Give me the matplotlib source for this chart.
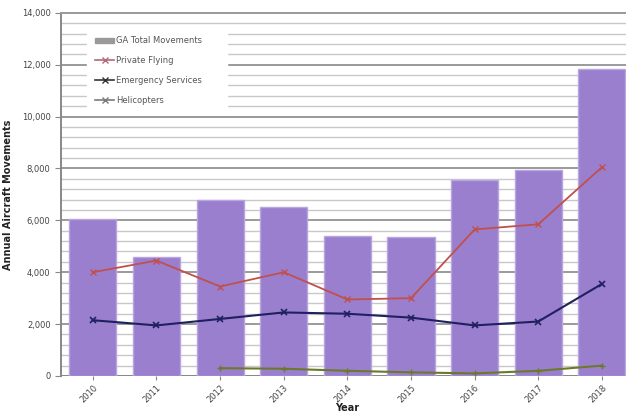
"""GA aircraft movements 2010-2018: bars for total, lines per category."""

import matplotlib
matplotlib.use("Agg")
import matplotlib.pyplot as plt
import numpy as np
from matplotlib.lines import Line2D
from matplotlib.patches import Patch
from matplotlib.ticker import FuncFormatter, MultipleLocator

# ── data ──────────────────────────────────────────────────────
years = ["2010", "2011", "2012", "2013", "2014", "2015", "2016", "2017", "2018"]
ga_total = [6050, 4600, 6800, 6500, 5400, 5350, 7550, 7950, 11850]
private_flying = [4000, 4450, 3450, 4000, 2950, 3000, 5650, 5850, 8050]
emergency = [2150, 1950, 2200, 2450, 2400, 2250, 1950, 2100, 3550]
heli_years = ["2012", "2013", "2014", "2015", "2016", "2017", "2018"]
helicopters = [300, 280, 200, 140, 100, 200, 400]

# ── colours ───────────────────────────────────────────────────
BAR_COLOR = "#9a7fcf"
BAR_EDGE = "#b9a6e0"
PF_COLOR = "#c0504d"
ES_COLOR = "#1f2060"
HE_COLOR = "#6b7a2a"

fig = plt.figure(figsize=(6.26, 4.15), dpi=100)
ax = fig.add_axes([0.0974, 0.094, 0.915, 0.875])

x = np.arange(len(years))
hx = np.array([years.index(y) for y in heli_years])

ax.bar(x, ga_total, width=0.74, color=BAR_COLOR, edgecolor=BAR_EDGE,
       linewidth=1.0, zorder=2)
ax.plot(x, private_flying, color=PF_COLOR, lw=1.3, marker="x", ms=5,
        mew=1.0, zorder=3)
ax.plot(x, emergency, color=ES_COLOR, lw=1.5, marker="x", ms=5,
        mew=1.2, zorder=3)
ax.plot(hx, helicopters, color=HE_COLOR, lw=1.5, marker="+", ms=4,
        zorder=3)

ax.set_xlim(-0.5, 8.5)
ax.set_ylim(0, 14000)
ax.set_xticks(x)
ax.set_xticklabels(years, rotation=45, ha="right", fontsize=6,
                   color="#444444", rotation_mode="anchor")
ax.yaxis.set_major_locator(MultipleLocator(2000))
ax.yaxis.set_minor_locator(MultipleLocator(400))
ax.yaxis.set_major_formatter(FuncFormatter(lambda v, p: f"{int(v):,}"))
ax.tick_params(axis="y", labelsize=6, labelcolor="#444444",
               length=4, color="#888888")
ax.tick_params(axis="y", which="minor", length=0)
ax.tick_params(axis="x", length=3, color="#888888", pad=2)

ax.grid(axis="y", which="major", color="#9a9a9a", lw=1.4, zorder=0)
ax.grid(axis="y", which="minor", color="#c8c8c8", lw=1.0, zorder=0)
ax.set_axisbelow(True)

for side in ("right", "bottom"):
    ax.spines[side].set_visible(False)
ax.spines["top"].set_color("#9a9a9a")
ax.spines["top"].set_linewidth(1.4)
ax.spines["left"].set_color("#888888")
ax.spines["left"].set_linewidth(1.4)
ax.axhline(0, color="#888888", lw=1.4, zorder=1)

ax.set_ylabel("Annual Aircraft Movements", fontsize=7, fontweight="bold",
              color="#222222", labelpad=6)
ax.set_xlabel("Year", fontsize=7, fontweight="bold", color="#222222",
              labelpad=-1)

handles = [
    Patch(facecolor="#9a9a9a", edgecolor="#9a9a9a"),
    Line2D([], [], color="#b06a78", marker="x", ms=4, lw=1.2),
    Line2D([], [], color="#333333", marker="x", ms=4, lw=1.2),
    Line2D([], [], color="#7a7a7a", marker="x", ms=4, lw=1.2),
]
labels = ["GA Total Movements", "Private Flying", "Emergency Services",
          "Helicopters"]
leg = ax.legend(handles, labels, loc="upper left", mode="expand",
                bbox_to_anchor=(0.045, 0.72, 0.245, 0.238), fontsize=6,
                frameon=True, fancybox=False, edgecolor="white",
                facecolor="white", framealpha=1.0, labelspacing=1.3,
                handlelength=2.3, handletextpad=0.2, borderpad=1.0,
                borderaxespad=0)
for t in leg.get_texts():
    t.set_color("#555555")

fig.savefig("out.png", dpi=100, facecolor="white")
